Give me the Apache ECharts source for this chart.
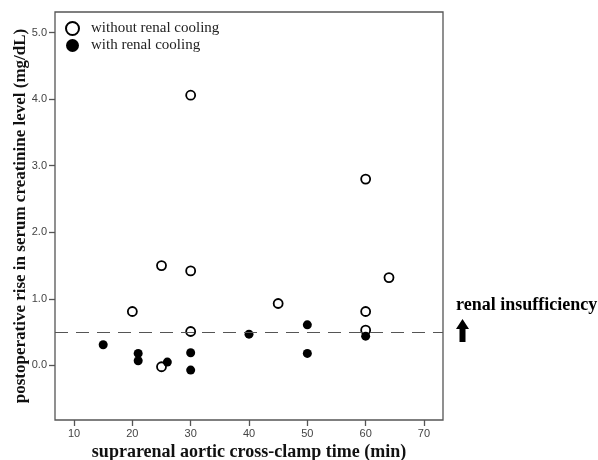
<!DOCTYPE html>
<html>
<head>
<meta charset="utf-8">
<script src="https://cdn.jsdelivr.net/npm/echarts@6/dist/echarts.min.js"></script>
<style>html,body{margin:0;padding:0;background:#fff;}#c{width:598px;height:460px;}</style>
</head>
<body>
<div id="c"></div>
<script>
var xTicks = [10, 20, 30, 40, 50, 60, 70];
var yTicks = [0, 1, 2, 3, 4, 5];
var withoutCooling = [
  [20, 0.81], [25, 1.50], [25, -0.02], [30, 4.06], [30, 1.42], [30, 0.51],
  [45, 0.93], [60, 2.80], [60, 0.81], [60, 0.53], [64, 1.32]
];
var withCooling = [
  [15, 0.31], [21, 0.18], [21, 0.07], [26, 0.05], [30, 0.19], [30, -0.07],
  [40, 0.47], [50, 0.61], [50, 0.18], [60, 0.44]
];
var threshold = 0.5;

var chart = echarts.init(document.getElementById('c'), null, {renderer: 'canvas'});
var serif = '"Liberation Serif", "DejaVu Serif", serif';
var sans = '"Liberation Sans", Arial, sans-serif';
chart.setOption({
  animation: false,
  backgroundColor: '#fff',
  grid: {left: 55, right: 155, top: 12, bottom: 40, show: true, borderColor: '#555', borderWidth: 1.3,
    backgroundColor: 'transparent', containLabel: false, outerBoundsMode: 'none'},
  legend: {
    show: true, orient: 'vertical', left: 65, top: 21, padding: 0, itemGap: 2, itemWidth: 13, itemHeight: 13,
    textStyle: {fontFamily: serif, fontSize: 15, color: '#222', padding: [0, 0, 0, 7]},
    data: ['without renal cooling', 'with renal cooling']
  },
  xAxis: {
    type: 'value', min: 6.74, max: 73.26,
    name: 'suprarenal aortic cross-clamp time (min)', nameLocation: 'middle', nameGap: 23, nameMoveOverlap: false,
    nameTextStyle: {fontFamily: serif, fontSize: 18, fontWeight: 'bold', color: '#111'},
    axisLine: {show: false, onZero: false},
    axisTick: {show: true, length: 6, lineStyle: {color: '#555', width: 1.3}, customValues: xTicks},
    axisLabel: {show: true, margin: 8, fontFamily: sans, fontSize: 11, color: '#444', customValues: xTicks},
    splitLine: {show: false}
  },
  yAxis: {
    type: 'value', min: -0.82, max: 5.31,
    name: 'postoperative rise in serum creatinine level (mg/dL)', nameLocation: 'middle', nameGap: 26, nameMoveOverlap: false,
    nameTextStyle: {fontFamily: serif, fontSize: 17, fontWeight: 'bold', color: '#111'},
    axisLine: {show: false, onZero: false},
    axisTick: {show: true, length: 6, lineStyle: {color: '#555', width: 1.3}, customValues: yTicks},
    axisLabel: {show: true, margin: 8, fontFamily: sans, fontSize: 11, color: '#444', customValues: yTicks,
      formatter: function (v) { return v.toFixed(1); }},
    splitLine: {show: false}
  },
  series: [
    {
      name: 'without renal cooling', type: 'scatter', data: withoutCooling, symbol: 'circle', symbolSize: 9,
      itemStyle: {color: '#fff', borderColor: '#000', borderWidth: 1.8, opacity: 1},
      markLine: {
        silent: true, symbol: 'none', label: {show: false},
        lineStyle: {color: '#555', type: [13, 8], width: 1.2},
        data: [{yAxis: threshold}]
      },
      z: 3
    },
    {
      name: 'with renal cooling', type: 'scatter', data: withCooling, symbol: 'circle', symbolSize: 9,
      itemStyle: {color: '#000', borderColor: '#000', borderWidth: 0, opacity: 1},
      z: 4
    }
  ],
  graphic: [
    {type: 'text', left: 456, top: 296, style: {text: 'renal insufficiency', fontFamily: serif, fontSize: 18, fontWeight: 'bold', fill: '#000'}},
    {type: 'polygon', shape: {points: [[462.5, 319], [456, 329], [459.5, 329], [459.5, 342], [465.5, 342], [465.5, 329], [469, 329]]}, style: {fill: '#000'}}
  ]
});
</script>
</body>
</html>
